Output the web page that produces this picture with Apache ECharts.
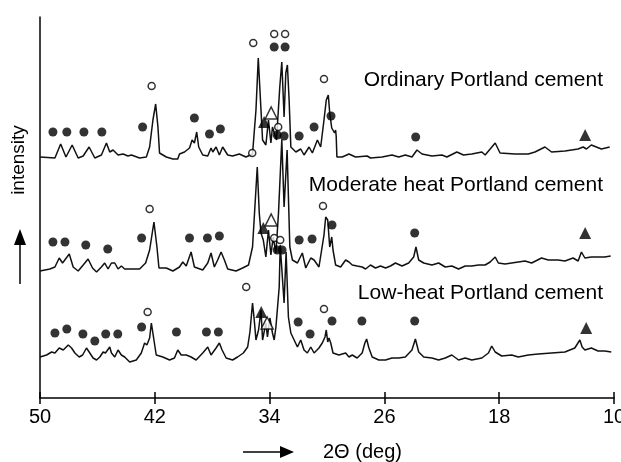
<!DOCTYPE html>
<html><head><meta charset="utf-8">
<script src="https://cdn.jsdelivr.net/npm/echarts@6/dist/echarts.min.js"></script>
<style>html,body{margin:0;padding:0;background:#fff}#c{width:621px;height:462px}</style>
</head><body><div id="c"></div>
<script>
// 2-theta tick labels (axis runs from 50 down to 10)
const xTickLabels = [50, 42, 34, 26, 18, 10];

// XRD patterns [2theta (deg), intensity (a.u., stacked offset)]
const ordinary = [[50.00,241],[48.96,240],[48.56,254],[48.19,241],[47.76,253],[47.34,240],[46.99,242],[46.58,251],[46.18,240],[45.72,243],[45.37,255],[45.14,246],[44.91,248],[44.56,243],[44.21,244],[43.87,242],[43.63,243],[43.06,240],[42.59,241],[42.36,251],[42.13,278],[41.94,294],[41.78,271],[41.67,245],[41.20,241],[40.74,239],[40.40,239],[40.28,244],[39.93,246],[39.58,250],[39.40,258],[39.24,255],[39.08,266],[38.94,251],[38.66,243],[38.31,242],[38.08,250],[37.96,246],[37.73,251],[37.50,243],[37.27,251],[37.15,253],[36.92,243],[36.58,242],[36.11,244],[35.65,241],[35.19,244],[34.95,288],[34.79,340],[34.60,288],[34.49,258],[34.26,253],[34.08,278],[33.91,255],[33.80,271],[33.52,258],[33.29,311],[33.15,336],[32.99,281],[32.87,325],[32.76,333],[32.64,298],[32.52,251],[32.17,246],[31.83,249],[31.60,243],[31.25,251],[31.02,245],[30.67,258],[30.44,251],[30.21,278],[30.05,298],[29.91,303],[29.81,285],[29.67,270],[29.58,271],[29.47,265],[29.40,268],[29.36,262],[29.31,241],[28.94,241],[28.47,244],[28.01,241],[27.20,242],[26.97,240],[26.16,241],[25.47,243],[25.00,241],[24.54,243],[24.08,241],[23.73,248],[23.38,244],[22.69,242],[21.99,243],[21.65,241],[20.95,246],[20.49,243],[19.91,244],[19.21,246],[18.98,243],[18.28,255],[17.94,245],[16.90,244],[15.97,244],[15.51,246],[14.81,251],[14.35,246],[13.42,247],[12.50,249],[12.15,251],[11.92,249],[11.58,253],[11.23,251],[10.88,249],[10.30,251]];

const moderate = [[50.00,127],[49.31,129],[48.96,131],[48.66,140],[48.43,135],[47.96,144],[47.69,131],[47.34,127],[46.99,133],[46.65,139],[46.34,130],[46.06,126],[45.72,131],[45.49,135],[45.26,129],[45.02,135],[44.79,135],[44.56,129],[44.33,132],[44.10,129],[43.63,129],[43.06,129],[42.64,135],[42.36,148],[42.06,176],[41.85,151],[41.71,130],[41.20,130],[40.74,127],[40.28,131],[40.05,136],[39.81,132],[39.47,146],[39.24,131],[38.66,128],[38.31,135],[38.08,145],[37.85,131],[37.62,138],[37.38,146],[37.15,138],[36.92,129],[36.34,127],[35.88,130],[35.47,133],[35.19,151],[34.86,231],[34.72,185],[34.60,165],[34.44,158],[34.26,141],[34.08,168],[33.91,143],[33.75,161],[33.56,145],[33.38,185],[33.15,258],[32.99,191],[32.78,248],[32.59,151],[32.41,138],[32.06,135],[31.72,145],[31.48,130],[31.13,140],[30.90,138],[30.56,131],[30.21,163],[30.09,181],[29.95,178],[29.81,151],[29.67,161],[29.58,148],[29.40,133],[29.05,131],[28.70,138],[28.47,136],[28.24,133],[27.90,132],[27.55,131],[27.31,129],[26.97,133],[26.62,130],[26.27,132],[25.92,130],[25.58,132],[25.23,135],[24.77,132],[24.31,135],[23.96,141],[23.80,151],[23.61,138],[23.26,135],[22.69,133],[22.22,135],[21.76,131],[21.30,132],[20.83,129],[20.37,132],[19.91,132],[19.44,133],[18.98,133],[18.63,136],[18.28,141],[18.06,135],[17.59,134],[17.13,135],[16.67,136],[16.20,137],[15.74,135],[15.05,140],[14.58,138],[13.89,138],[13.42,137],[12.85,140],[12.50,137],[12.27,146],[12.03,140],[11.58,141],[11.11,141],[10.65,141],[10.23,142]];

const lowHeat = [[50.00,41],[49.54,43],[49.19,46],[48.96,45],[48.66,50],[48.38,48],[48.03,53],[47.80,50],[47.57,45],[47.27,41],[47.03,43],[46.76,50],[46.53,45],[46.30,40],[46.06,38],[45.83,41],[45.60,46],[45.44,45],[45.14,51],[45.02,45],[44.79,41],[44.56,48],[44.33,43],[44.10,41],[43.75,36],[43.29,38],[42.94,45],[42.71,55],[42.55,53],[42.36,60],[42.24,75],[42.06,58],[41.90,43],[41.44,41],[40.97,38],[40.63,40],[40.40,48],[40.16,43],[39.81,43],[39.47,41],[39.12,38],[38.66,45],[38.31,51],[38.08,43],[37.73,50],[37.50,55],[37.31,48],[37.03,40],[36.58,38],[36.23,41],[35.83,45],[35.53,51],[35.37,66],[35.19,95],[35.07,78],[34.95,58],[34.77,68],[34.60,88],[34.49,58],[34.26,75],[34.15,61],[33.98,80],[33.80,65],[33.68,58],[33.56,71],[33.33,111],[33.26,153],[32.99,95],[32.85,146],[32.69,81],[32.52,65],[32.29,58],[32.06,51],[31.83,58],[31.60,48],[31.37,45],[31.13,51],[30.90,45],[30.56,50],[30.33,55],[30.14,61],[30.05,68],[29.95,56],[29.86,60],[29.74,55],[29.58,45],[29.17,43],[28.70,45],[28.47,41],[28.24,43],[27.90,40],[27.55,45],[27.36,55],[27.24,59],[27.08,50],[26.85,41],[26.39,38],[25.92,38],[25.47,40],[25.00,40],[24.54,41],[24.08,48],[23.84,59],[23.61,46],[23.26,41],[22.69,40],[22.22,38],[21.76,40],[21.30,43],[20.83,38],[20.37,40],[19.91,38],[19.21,40],[18.75,45],[18.52,52],[18.28,46],[17.83,42],[17.13,43],[16.67,41],[15.97,43],[15.28,44],[14.35,45],[13.42,46],[12.73,50],[12.38,58],[12.22,51],[12.03,48],[11.58,50],[11.11,47],[10.65,47],[10.19,46]];

// phase markers [2theta, height]
const solidDots = [[49.10,266],[48.13,266],[46.94,266],[45.69,266],[42.85,271],[39.24,280],[38.19,264],[37.43,269],[33.68,351],[32.92,351],[33.47,263],[32.99,262],[31.94,262],[30.90,271],[29.72,282],[23.82,261],
  [49.10,156],[48.26,156],[46.81,153],[45.28,149],[42.92,160],[39.58,160],[38.33,160],[37.50,162],[33.47,148],[33.13,148],[31.94,158],[31.04,159],[29.65,173],[23.89,165],
  [48.96,65],[48.13,69],[47.01,64],[46.18,57],[45.42,64],[44.58,64],[42.92,71],[40.49,66],[38.40,66],[37.57,66],[32.01,76],[31.18,64],[29.65,77],[27.57,77],[23.89,77]];
const openCircles = [[42.22,312],[35.14,355],[33.68,364],[32.92,364],[30.21,319],[35.21,245],[33.40,271],
  [42.36,189],[33.68,160],[33.26,158],[30.28,192],
  [42.50,86],[35.63,111],[30.21,89]];
const solidTriangles = [[34.38,276],[12.01,263],[34.44,170],[12.01,165],[34.58,86],[11.94,70]];
const openTriangles = [[33.89,285],[33.89,178],[34.17,75]];

const sampleNames = ['Ordinary Portland cement', 'Moderate heat Portland cement', 'Low-heat Portland cement'];

const FONT = "'Liberation Sans', Arial, sans-serif";
const chart = echarts.init(document.getElementById('c'), null, {renderer: 'canvas'});
const lineSeries = [ordinary, moderate, lowHeat].map(d => ({
  type: 'line', data: d, showSymbol: false, smooth: false, silent: true,
  lineStyle: {color: '#111', width: 1.5}, z: 2
}));
const markerSeries = [
  {data: solidDots, symbol: 'circle', symbolSize: 9, itemStyle: {color: '#000'}},
  {data: openCircles, symbol: 'circle', symbolSize: 7, itemStyle: {color: '#fff', borderColor: '#000', borderWidth: 1.5}},
  {data: solidTriangles, symbol: 'triangle', symbolSize: 12, itemStyle: {color: '#000'}},
  {data: openTriangles, symbol: 'triangle', symbolSize: 12, itemStyle: {color: '#fff', borderColor: '#000', borderWidth: 1.5}}
].map(s => Object.assign({type: 'scatter', silent: true, z: 3}, s));

const labelY = [80, 185, 293];
chart.setOption({
  animation: false,
  backgroundColor: '#fff',
  grid: {left: 40, right: 7, top: 17, bottom: 64, containLabel: false, outerBoundsMode: 'none'},
  xAxis: [{
    type: 'value', min: 10, max: 50, inverse: true,
    axisLine: {lineStyle: {color: '#000', width: 1.5}},
    axisTick: {length: 6, lineStyle: {color: '#000', width: 1.5}, customValues: xTickLabels},
    axisLabel: {customValues: xTickLabels, color: '#000', fontSize: 20, fontFamily: FONT, margin: 9},
    splitLine: {show: false}
  }, {
    type: 'value', min: 10, max: 50, inverse: true, position: 'bottom',
    axisLine: {show: false},
    axisTick: {inside: true, length: 6, lineStyle: {color: '#000', width: 1.5}, customValues: xTickLabels},
    axisLabel: {show: false}, splitLine: {show: false}
  }],
  yAxis: {
    type: 'value', min: 0, max: 381,
    axisLine: {show: true, lineStyle: {color: '#000', width: 1.5}},
    axisTick: {show: false}, axisLabel: {show: false}, splitLine: {show: false}
  },
  series: lineSeries.concat(markerSeries),
  graphic: sampleNames.map((t, i) => ({
    type: 'text', x: 603, y: labelY[i],
    style: {text: t, fontSize: 21, fontFamily: FONT, fill: '#000', align: 'right', verticalAlign: 'middle'}
  })).concat([
    {type: 'text', x: 19, y: 160, rotation: Math.PI / 2,
     style: {text: 'intensity', fontSize: 19, fontFamily: FONT, fill: '#000', align: 'center', verticalAlign: 'middle'}},
    {type: 'line', shape: {x1: 20, y1: 284, x2: 20, y2: 244}, style: {stroke: '#000', lineWidth: 1.5}},
    {type: 'polygon', shape: {points: [[14, 245], [20, 229], [26, 245]]}, style: {fill: '#000'}},
    {type: 'line', shape: {x1: 243, y1: 452, x2: 282, y2: 452}, style: {stroke: '#000', lineWidth: 1.5}},
    {type: 'polygon', shape: {points: [[280, 446], [294, 452], [280, 458]]}, style: {fill: '#000'}},
    {type: 'text', x: 323, y: 452,
     style: {text: '2\u0398 (deg)', fontSize: 20, fontFamily: FONT, fill: '#000', align: 'left', verticalAlign: 'middle'}}
  ])
});
</script></body></html>
